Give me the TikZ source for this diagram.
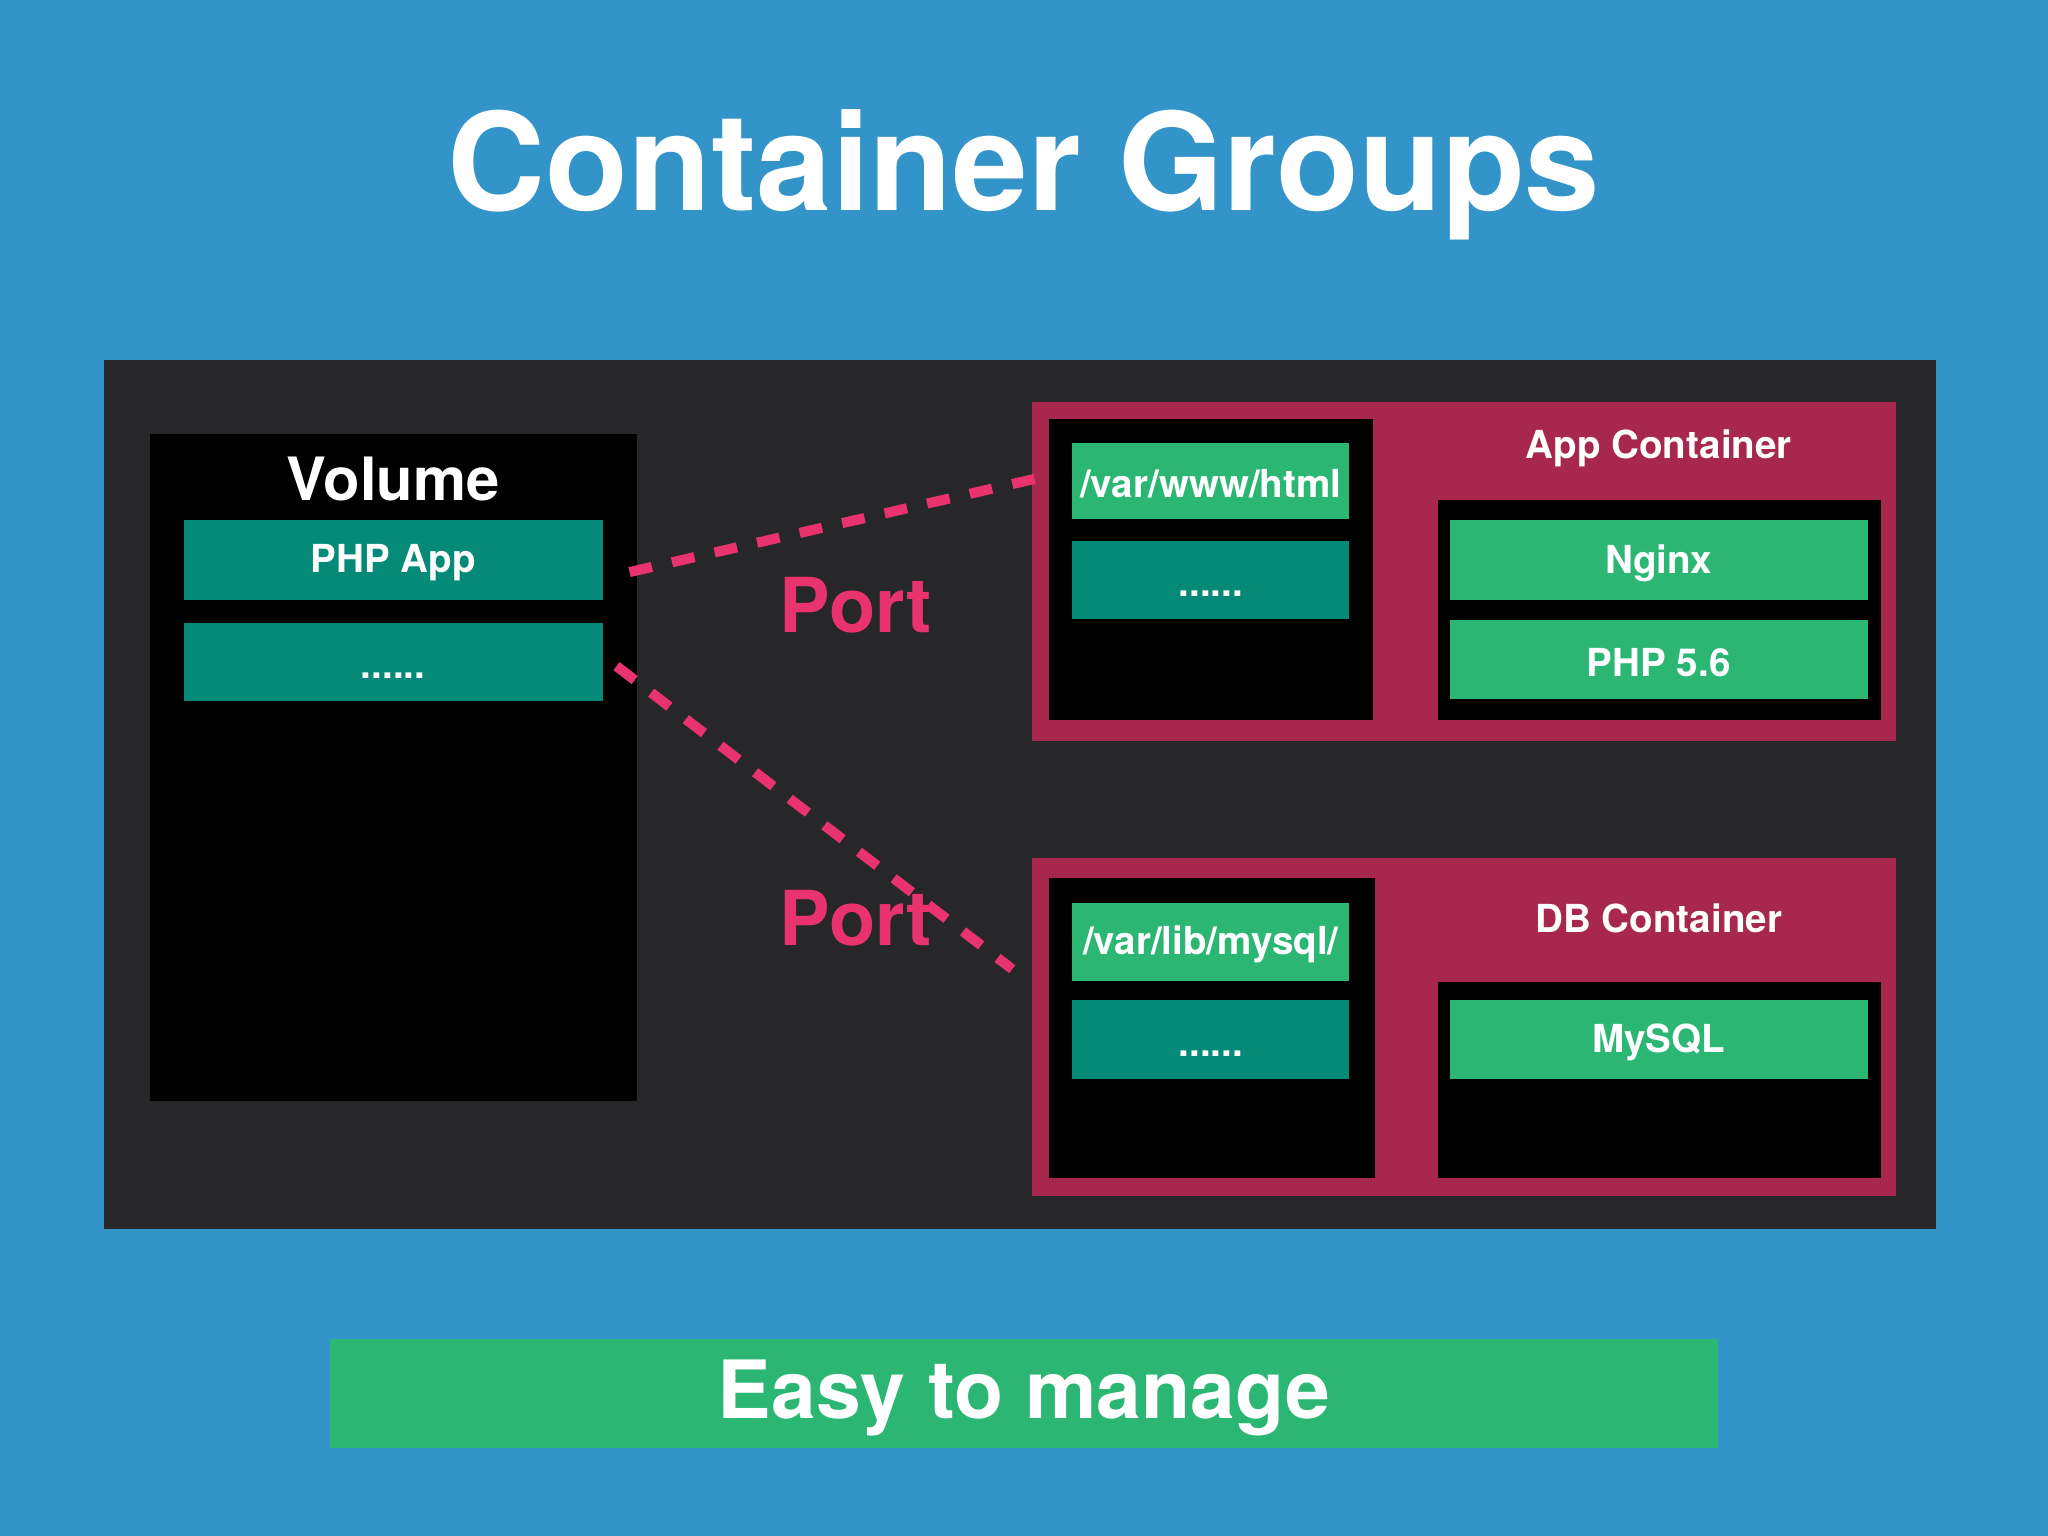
\documentclass[tikz,border=0pt]{standalone}
\usepackage{fontspec}
\setmainfont{TeX Gyre Heros}
\begin{document}
\begin{tikzpicture}[x=0.01cm,y=-0.01cm,
  lbl/.style={text=white,font=\bfseries\fontsize{8.4}{10}\selectfont},
  dots/.style={text=white,font=\bfseries\fontsize{8.4}{10}\selectfont,yshift=-3pt},
]
\definecolor{bg}{HTML}{3294C8}
\definecolor{panel}{HTML}{272628}
\definecolor{teal}{HTML}{068A78}
\definecolor{lgreen}{HTML}{2BB673}
\definecolor{mag}{HTML}{A8274F}
\definecolor{pink}{HTML}{E8336F}
\fill[bg] (0,0) rectangle (1568,1176);
\useasboundingbox (0,0) rectangle (1568,1176);
\node[text=white,font=\bfseries\fontsize{29.5}{34}\selectfont] (title) at (784,134) {Container Groups};
\fill[panel] (80,276) rectangle (1482,941);
% Volume
\fill[black] (115,332) rectangle (488,843);
\node[text=white,font=\bfseries\fontsize{13}{15}\selectfont] (vol) at (301,367) {Volume};
\fill[teal] (141,398) rectangle (462,459); \node[lbl] (php) at (301,431) {PHP App};
\fill[teal] (141,477) rectangle (462,537); \node[dots] (vdots) at (301,507) {......};
% App container
\fill[mag] (790,308) rectangle (1452,567);
\fill[black] (803,321) rectangle (1051,551);
\fill[lgreen] (821,339) rectangle (1033,397); \node[lbl] (www) at (927,370) {/var/www/html};
\fill[teal] (821,414) rectangle (1033,474); \node[dots] (adots) at (927,444) {......};
\node[lbl] (appc) at (1270,343) {App Container};
\fill[black] (1101,383) rectangle (1440,551);
\fill[lgreen] (1110,398) rectangle (1430,459); \node[lbl] (nginx) at (1270,431) {Nginx};
\fill[lgreen] (1110,475) rectangle (1430,535); \node[lbl] (php56) at (1270,507) {PHP 5.6};
% DB container
\fill[mag] (790,657) rectangle (1452,916);
\fill[black] (803,672) rectangle (1053,902);
\fill[lgreen] (821,691) rectangle (1033,751); \node[lbl] (mysqlp) at (927,723) {/var/lib/mysql/};
\fill[teal] (821,766) rectangle (1033,826); \node[dots] (ddots) at (927,796) {......};
\node[lbl] (dbc) at (1270,703) {DB Container};
\fill[black] (1101,752) rectangle (1440,902);
\fill[lgreen] (1110,766) rectangle (1430,826); \node[lbl] (mysql) at (1270,798) {MySQL};
% ports
\node[text=pink,font=\bfseries\fontsize{16.5}{20}\selectfont] (port1) at (655,463) {Port};
\node[text=pink,font=\bfseries\fontsize{16.5}{20}\selectfont] (port2) at (655,703) {Port};
\coordinate (a1) at (482,438); \coordinate (a2) at (795,366);
\coordinate (b1) at (472,510); \coordinate (b2) at (775,742);
\draw[pink,line width=2.2pt,dash pattern=on 5pt off 4.5pt] (a1) -- (a2);
\draw[pink,line width=2.2pt,dash pattern=on 5pt off 4.5pt] (b1) -- (b2);
% bottom
\fill[lgreen] (253,1025) rectangle (1315,1109);
\node[text=white,font=\bfseries\fontsize{17.5}{22}\selectfont] (easy) at (784,1070) {Easy to manage};
\end{tikzpicture}
\end{document}
